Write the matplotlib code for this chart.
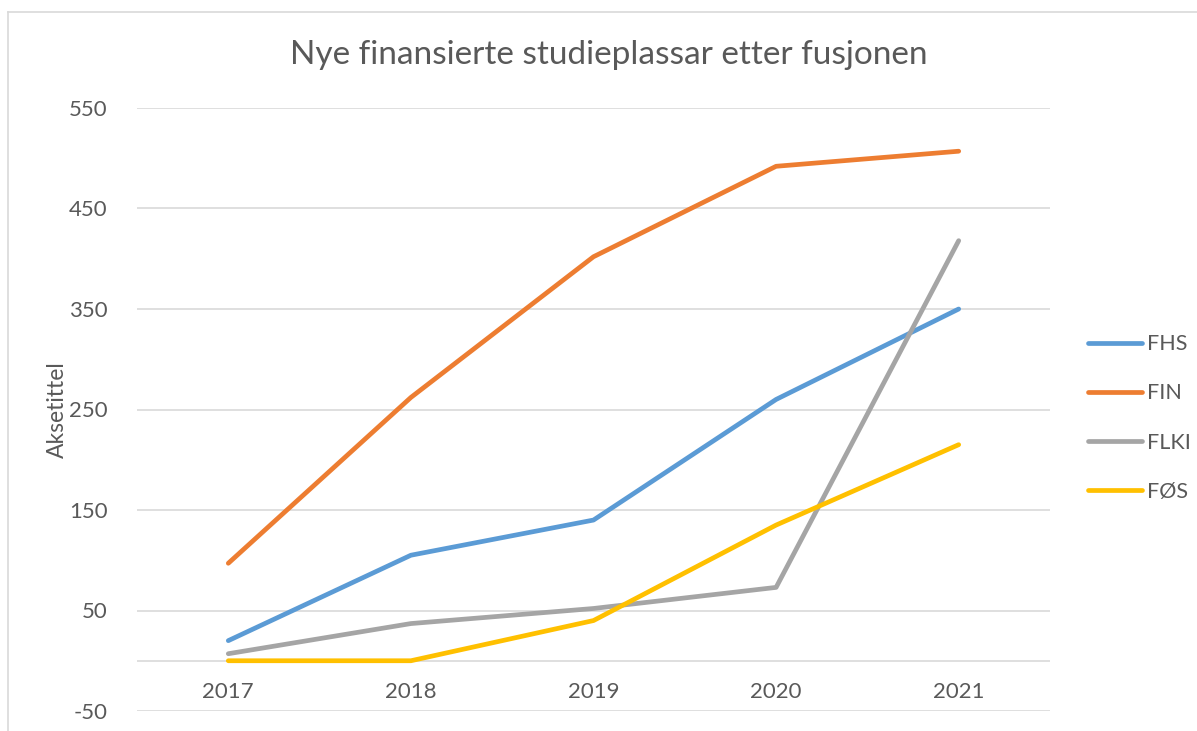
import matplotlib.pyplot as plt
from matplotlib.lines import Line2D

plt.rcParams['font.family'] = ['Lato', 'DejaVu Sans']
plt.rcParams['axes.unicode_minus'] = False

years = [2017, 2018, 2019, 2020, 2021]
fhs = [20, 105, 140, 260, 350]
fin = [97, 262, 402, 492, 507]
flki = [7, 37, 52, 73, 418]
fos = [0, 0, 40, 135, 215]

series = [("FHS", fhs, "#5B9BD5"),
          ("FIN", fin, "#ED7D31"),
          ("FLKI", flki, "#A5A5A5"),
          ("FØS", fos, "#FFC000")]

txt = "#595959"
grid = "#D9D9D9"

fig = plt.figure(figsize=(11.97, 7.31), dpi=100)
ax = fig.add_axes([137/1197, 1 - 711/731, (1050 - 137)/1197, (711 - 108)/731])

for name, vals, col in series:
    ax.plot(years, vals, color=col, lw=3.4, solid_capstyle='round',
            solid_joinstyle='round', label=name, zorder=3)

ax.set_xlim(2016.5, 2021.5)
ax.set_ylim(-50, 550)
ax.set_yticks(range(-50, 551, 100))
for y in list(range(-50, 551, 100)) + [0]:
    ax.axhline(y, color=grid, lw=1.2, zorder=1)

for s in ax.spines.values():
    s.set_visible(False)
ax.tick_params(axis='y', length=0, pad=21, labelsize=16, labelcolor=txt)
ax.set_xticks([])
for yr in years:
    ax.text(yr, -31, str(yr), ha='center', va='center', fontsize=16, color=txt)

# axis title
fig.text(57/1197, 1 - 410/731, "Aksetittel", rotation=90, ha='center',
         va='center', fontsize=16.5, color=txt)

fig.text(609/1197, 1 - 55/731, "Nye finansierte studieplassar etter fusjonen",
         ha='center', va='center', fontsize=24, color=txt)

ax.legend(loc='center left', bbox_to_anchor=(1088/1197, 1 - 418/731),
          bbox_transform=fig.transFigure, frameon=False, fontsize=15.5,
          handlelength=2.5, handletextpad=0.25, labelspacing=1.35,
          borderpad=0, borderaxespad=0, labelcolor=txt)

# chart border (only top and left visible in reference)
fig.add_artist(Line2D([8/1197, 1], [1 - 12/731, 1 - 12/731], color=grid, lw=1.2))
fig.add_artist(Line2D([8/1197, 8/1197], [0, 1 - 12/731], color=grid, lw=1.2))

fig.savefig("out.png", dpi=100)
